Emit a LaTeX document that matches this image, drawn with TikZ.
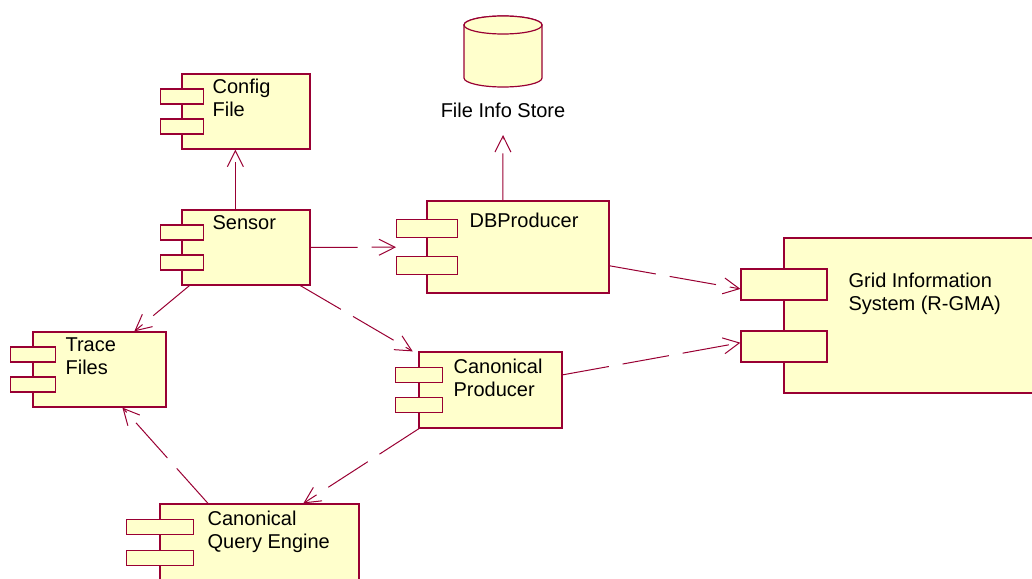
\documentclass[tikz,border=0pt]{standalone}
\usepackage{fontspec}
\setmainfont{Liberation Sans}
\usetikzlibrary{arrows.meta,fit}
\definecolor{umlline}{RGB}{153,0,51}
\definecolor{umlfill}{RGB}{255,255,204}

% component box with two tabs: name, left, top, width, height
\newcommand\umlcomponent[5]{%
  \pgfmathsetmacro\ctabl{#2-#4/6}
  \pgfmathsetmacro\ctabr{#2+#4/6}
  \pgfmathsetmacro\cright{#2+#4}
  \pgfmathsetmacro\cbottom{#3+#5}
  \draw[comp box] (#2,#3) rectangle (\cright,\cbottom);
  \draw[comp box] (\ctabl,{#3+0.2*#5}) rectangle (\ctabr,{#3+0.4*#5});
  \draw[comp box] (\ctabl,{#3+0.6*#5}) rectangle (\ctabr,{#3+0.8*#5});
  \coordinate (#1 nw) at (\ctabl,#3);
  \coordinate (#1 se) at (\cright,\cbottom);
  \node[fit=(#1 nw)(#1 se), inner sep=0] (#1) {};
}

\begin{document}
\begin{tikzpicture}[x=0.5pt, y=-0.5pt, line width=0.6pt,
    comp box/.style={draw=umlline, fill=umlfill},
    comp text/.style={anchor=north west, inner sep=0, align=left,
                      font=\fontsize{10pt}{11.75pt}\selectfont},
    depends/.style={draw=umlline, line width=0.5pt, dash pattern=on 23.5pt off 7pt,
                    -{Straight Barb[length=8pt, width=8pt]}}]
  \useasboundingbox (0,0) rectangle (1032,578);

  \umlcomponent{config}{182}{74}{128}{75}
  \umlcomponent{sensor}{182}{210}{128}{75}
  \umlcomponent{db}{427}{201}{182}{92}
  \umlcomponent{gis}{784}{238}{258}{155}
  \umlcomponent{trace}{33}{332}{133}{75}
  \umlcomponent{canprod}{419}{352}{143}{76}
  \umlcomponent{query}{160}{504}{199}{77}

  \node[comp text] (config label) at (212,78) {Config\\File};
  \node[comp text] (sensor label) at (212,215) {Sensor};
  \node[comp text] (db label) at (469,212) {DBProducer};
  \node[comp text] (gis label) at (848,272) {Grid Information\\System (R-GMA)};
  \node[comp text] (trace label) at (65,337) {Trace\\Files};
  \node[comp text] (canprod label) at (453,358) {Canonical\\Producer};
  \node[comp text] (query label) at (207,510) {Canonical\\Query Engine};

  % database
  \filldraw[comp box] (464,25) -- (464,78)
    arc[start angle=180, end angle=360, x radius=19.5pt, y radius=4.5pt] -- (542,25)
    arc[start angle=0, end angle=180, x radius=19.5pt, y radius=4.5pt] -- cycle;
  \draw[comp box] (503,25) ellipse[x radius=19.5pt, y radius=4.5pt];
  \node[anchor=base, inner sep=0, font=\fontsize{10pt}{11.75pt}\selectfont]
    (store label) at (503,117) {File Info Store};
  \coordinate (store) at (503,135);

  \path[every edge/.style={depends}]
    (sensor) edge (config)
             edge (db)
             edge (trace)
             edge (canprod)
    (db) edge (store)
         edge (gis)
    (canprod) edge (gis)
              edge (query)
    (query) edge (trace);
\end{tikzpicture}
\end{document}
